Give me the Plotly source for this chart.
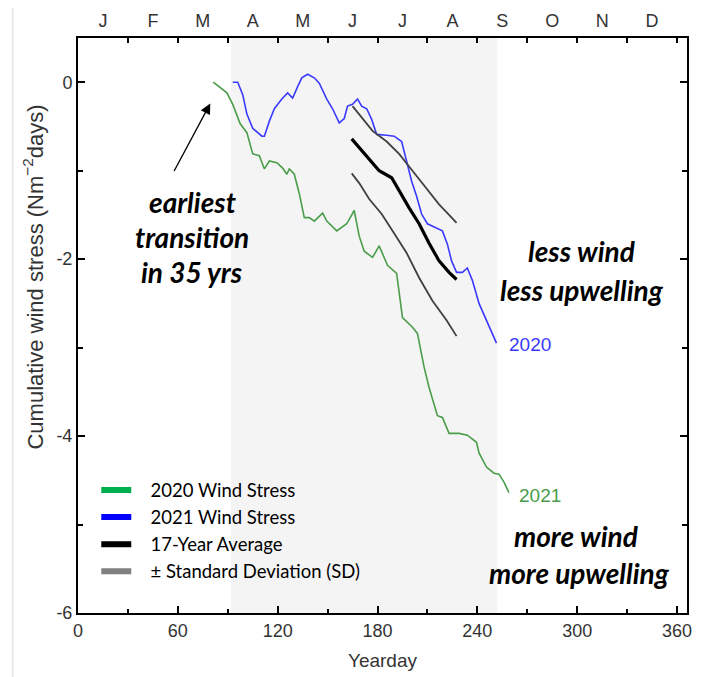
import plotly.graph_objects as go

# ---------------- data ----------------
green_day = [81.3, 87, 89.5, 93, 97.5, 101.5, 105, 109, 112, 115, 119.5, 123, 125.5, 127, 130,
             133, 136, 139, 142, 147, 149.5, 155.5, 161.5, 166, 169, 172, 177, 181, 186, 191.5,
             195, 201, 204, 208, 211, 216, 219, 223, 229, 234, 239.5, 241, 245.5, 250, 253, 256, 259]
green_val = [0.0, -0.08, -0.12, -0.25, -0.47, -0.57, -0.81, -0.83, -0.98, -0.89, -0.91, -0.97, -1.04, -0.98, -1.04,
             -1.26, -1.53, -1.53, -1.57, -1.48, -1.57, -1.68, -1.60, -1.45, -1.74, -1.91, -1.98, -1.85, -2.07, -2.16,
             -2.66, -2.77, -2.84, -3.22, -3.45, -3.77, -3.79, -3.97, -3.97, -3.99, -4.07, -4.19, -4.35, -4.42, -4.43, -4.52, -4.64]

blue_day = [93, 96, 99, 101.5, 105, 110.5, 112, 115, 118, 122.5, 126, 129, 132, 134.5, 138, 142, 145,
            149.5, 153, 157, 160, 162, 165, 168, 170.5, 173.5, 176.5, 179.5, 185.5, 190, 194.5, 197.5,
            200.5, 203.5, 206.5, 210, 215.5, 219, 222, 224.5, 227.5, 231, 234, 237, 241, 245.5, 248.5, 251.5]
blue_val = [0.0, 0.0, -0.14, -0.36, -0.52, -0.61, -0.61, -0.44, -0.30, -0.19, -0.12, -0.18, -0.05, 0.05, 0.09, 0.05, -0.01,
            -0.19, -0.30, -0.46, -0.41, -0.27, -0.25, -0.19, -0.27, -0.30, -0.42, -0.59, -0.60, -0.61, -0.67, -0.89,
            -1.12, -1.29, -1.49, -1.60, -1.65, -1.68, -1.83, -2.02, -2.15, -2.15, -2.10, -2.24, -2.50, -2.69, -2.83, -2.95]

avg_day = [164.5, 169, 175, 181, 188.5, 193, 199, 205, 211, 217, 223, 227.5]
avg_val = [-0.64, -0.74, -0.87, -1.00, -1.08, -1.23, -1.42, -1.60, -1.82, -2.02, -2.15, -2.23]

sd_up_day = [165, 171, 177, 185.5, 193, 201, 209.5, 217, 223, 227.5]
sd_up_val = [-0.27, -0.41, -0.55, -0.67, -0.81, -1.00, -1.20, -1.38, -1.50, -1.59]

sd_lo_day = [164.5, 169, 175, 182.5, 189, 197.5, 205, 213, 221.5, 227.5]
sd_lo_val = [-1.03, -1.14, -1.32, -1.49, -1.68, -1.93, -2.21, -2.47, -2.69, -2.87]

shade_range = [92, 252]

x_ticks = [0, 60, 120, 180, 240, 300, 360]
x_minor = [30, 90, 150, 210, 270, 330]
y_ticks = [0, -2, -4, -6]
y_minor = [-1, -3, -5]
month_pos = [15, 45, 75, 105, 135, 165, 195, 225, 255, 285, 315, 345]
month_lbl = ["J", "F", "M", "A", "M", "J", "J", "A", "S", "O", "N", "D"]
month_bounds = [30, 60, 90, 120, 150, 180, 210, 240, 270, 300, 330, 360]

legend_names = ["2020 Wind Stress", "2021 Wind Stress", "17-Year Average", "± Standard Deviation (SD)"]
legend_colors = ["#00b050", "#0000ff", "#000000", "#808080"]

# ---------------- figure ----------------
fig = go.Figure()

SANS = "Liberation Sans, Arial, sans-serif"
TXT = "#333333"

# upper SD drawn on the top (month) axis, which shares the same range, so that axis is rendered
fig.add_trace(go.Scatter(x=sd_up_day, y=sd_up_val, mode="lines", xaxis="x2", yaxis="y",
                         line=dict(color="#404040", width=1.8), showlegend=False, hoverinfo="skip"))
fig.add_trace(go.Scatter(x=sd_lo_day, y=sd_lo_val, mode="lines",
                         line=dict(color="#404040", width=1.8), showlegend=False, hoverinfo="skip"))
fig.add_trace(go.Scatter(x=avg_day, y=avg_val, mode="lines",
                         line=dict(color="#000000", width=3.2), showlegend=False))
fig.add_trace(go.Scatter(x=green_day, y=green_val, mode="lines",
                         line=dict(color="#4a9d4a", width=1.6), showlegend=False))
fig.add_trace(go.Scatter(x=blue_day, y=blue_val, mode="lines",
                         line=dict(color="#3a3aff", width=1.6), showlegend=False))

# legend-only entries
for nm, col in zip(legend_names, legend_colors):
    fig.add_trace(go.Scatter(x=[None], y=[None], mode="lines", name="\u00a0\u00a0\u00a0" + nm,
                             line=dict(color=col, width=6), showlegend=True))

# shaded period
fig.add_shape(type="rect", xref="x", yref="paper", x0=shade_range[0], x1=shade_range[1],
              y0=0, y1=1, fillcolor="#f4f4f4", line=dict(width=0), layer="below")

# faint image border line at far left
fig.add_shape(type="line", xref="paper", yref="paper", x0=-0.107, x1=-0.107, y0=-0.13, y1=1.08,
              line=dict(color="#d8d8d8", width=1))

ann_font = dict(family="Lato, Open Sans, sans-serif", size=28, color="#000000", weight="bold", style="italic")
for txt, xv, yv in [("earliest", 68.7, -1.35), ("transition", 68.7, -1.75), ("in 35 yrs", 68.7, -2.15),
                    ("less wind", 302.7, -1.91), ("less upwelling", 302.7, -2.35),
                    ("more wind", 299.6, -5.13), ("more upwelling", 301.4, -5.55)]:
    fig.add_annotation(x=xv, y=yv, text=txt, showarrow=False, font=ann_font,
                       xanchor="center", yanchor="middle")

fig.add_annotation(x=258, y=-2.97, text="2020", showarrow=False, xanchor="left", yanchor="middle",
                   font=dict(family=SANS, size=19, color="#3a3aff"))
fig.add_annotation(x=264, y=-4.67, text="2021", showarrow=False, xanchor="left", yanchor="middle",
                   font=dict(family=SANS, size=19, color="#4a9d4a"))

# y-axis title as a rotated annotation (placed like the reference)
fig.add_annotation(xref="paper", yref="paper", x=-0.074, y=0.585, text="Cumulative wind stress (Nm<sup>−2</sup>days)",
                   textangle=-90, showarrow=False, xanchor="center", yanchor="middle",
                   font=dict(family=SANS, size=22, color=TXT))

# arrow
fig.add_annotation(x=79.5, y=-0.24, ax=57.3, ay=-1.02, axref="x", ayref="y", xref="x", yref="y",
                   text="", showarrow=True, arrowhead=2, arrowsize=1.6, arrowwidth=1.3, arrowcolor="#000000")

fig.update_layout(
    width=709, height=677,
    margin=dict(l=70, r=30, t=30, b=72, autoexpand=False),
    plot_bgcolor="white", paper_bgcolor="white",
    font=dict(family=SANS, size=18, color=TXT),
    legend=dict(x=0.03, y=0.246, xanchor="left", yanchor="top",
                bgcolor="rgba(0,0,0,0)", borderwidth=0,
                font=dict(family="Lato, Open Sans, sans-serif", size=18.5, color="#000000"),
                itemwidth=30),
    xaxis=dict(range=[0, 366], tickvals=x_ticks, ticks="inside", ticklen=7, tickwidth=1.5, automargin=False,
               tickcolor="black", showline=True, linewidth=2, linecolor="black", mirror=True,
               showgrid=False, zeroline=False,
               minor=dict(tickvals=x_minor, ticks="inside", ticklen=4, tickwidth=1.5, tickcolor="black", showgrid=False),
               title=dict(text="Yearday", standoff=14, font=dict(size=19, color=TXT)),
               tickfont=dict(size=18, color=TXT)),
    xaxis2=dict(range=[0, 366], overlaying="x", side="top", anchor="y", tickvals=month_pos, ticktext=month_lbl,
                ticks="", showline=False, showgrid=False, zeroline=False, ticklabelstandoff=6, automargin=False,
                minor=dict(tickvals=month_bounds, ticks="inside", ticklen=5, tickwidth=1.5, tickcolor="black", showgrid=False),
                tickfont=dict(size=18, color=TXT)),
    yaxis=dict(range=[-6, 0.5], tickvals=y_ticks, ticktext=["0", "-2", "-4", "-6"], ticks="inside", ticklen=7, tickwidth=1.5,
               tickcolor="black", showline=True, linewidth=2, linecolor="black", mirror="ticks", automargin=False,
               showgrid=False, zeroline=False,
               minor=dict(tickvals=y_minor, ticks="inside", ticklen=5, tickwidth=1.5, tickcolor="black", showgrid=False),
               tickfont=dict(size=18, color=TXT)),
    showlegend=True,
)

fig.write_html("out.html")
